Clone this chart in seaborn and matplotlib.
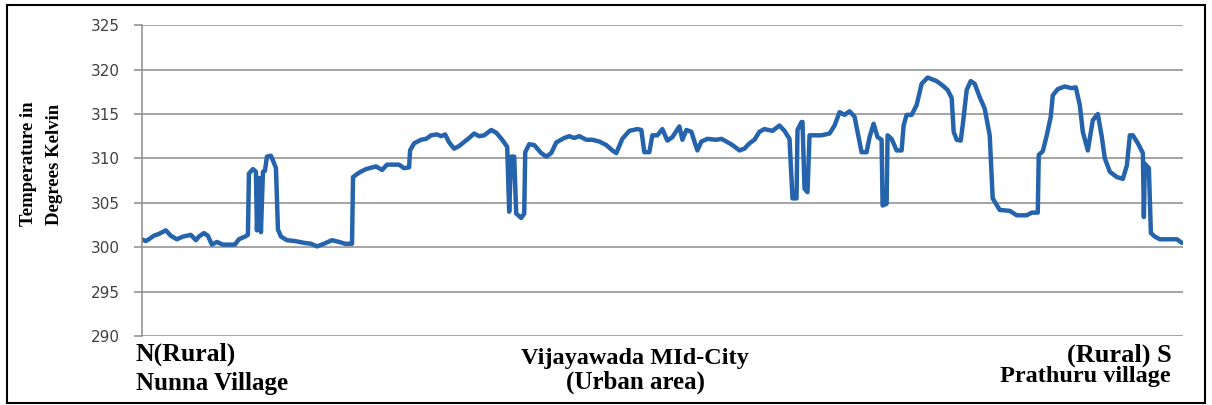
import matplotlib
matplotlib.use("Agg")
import matplotlib.pyplot as plt
import seaborn as sns
import pandas as pd
from matplotlib.patches import Rectangle

# position along the N-S transect (sample number) and surface temperature (K)
position = [0, 4, 7, 12, 17, 24, 29, 35, 41, 49, 54, 57, 62, 66, 70, 75, 81, 93,
            97, 103, 106, 107, 111, 114, 115, 117, 119, 121, 123, 125, 129, 132,
            134, 136, 139, 145, 153, 162, 169, 175, 182, 190, 197, 203, 210, 211,
            217, 224, 234, 240, 245, 257, 262, 267, 268, 272, 279, 284, 289, 295,
            299, 303, 307, 312, 317, 327, 332, 337, 342, 349, 354, 360, 365, 367,
            369, 372, 374, 379, 382, 383, 387, 392, 399, 404, 409, 414, 422, 427,
            432, 437, 444, 450, 457, 464, 470, 474, 480, 487, 495, 499, 502, 507,
            510, 515, 520, 525, 530, 537, 540, 544, 549, 552, 555, 559, 565, 574,
            579, 584, 590, 597, 602, 607, 612, 617, 622, 630, 637, 642, 647, 650,
            654, 655, 659, 660, 662, 665, 667, 674, 679, 687, 692, 697, 702, 707,
            712, 715, 719, 724, 727, 731, 735, 739, 740, 744, 745, 749, 754, 759,
            761, 764, 769, 774, 779, 785, 794, 800, 805, 809, 811, 814, 818, 820,
            824, 828, 832, 837, 842, 847, 850, 857, 867, 874, 884, 889, 895, 896,
            900, 904, 908, 910, 915, 922, 929, 933, 937, 940, 945, 950, 955, 959,
            962, 967, 974, 980, 984, 987, 990, 995, 1000, 1001, 1002, 1006, 1008,
            1012, 1017, 1034, 1039]
temperature = [300.9, 300.7, 300.9, 301.3, 301.5, 301.9, 301.3, 300.9, 301.2, 301.4,
               300.8, 301.2, 301.6, 301.3, 300.3, 300.6, 300.3, 300.3, 300.9, 301.2,
               301.4, 308.3, 308.8, 308.5, 301.9, 307.8, 301.7, 308.5, 308.6, 310.2,
               310.3, 309.5, 308.9, 302.0, 301.2, 300.8, 300.7, 300.5, 300.4, 300.1,
               300.4, 300.8, 300.6, 300.4, 300.4, 307.9, 308.4, 308.8, 309.1, 308.7,
               309.3, 309.3, 308.9, 309.0, 310.9, 311.7, 312.1, 312.2, 312.6, 312.7,
               312.5, 312.7, 311.8, 311.1, 311.4, 312.3, 312.8, 312.5, 312.6, 313.2,
               312.9, 312.1, 311.3, 304.0, 310.2, 310.2, 303.8, 303.3, 303.8, 310.7,
               311.6, 311.5, 310.6, 310.2, 310.6, 311.8, 312.3, 312.5, 312.3, 312.5,
               312.1, 312.1, 311.9, 311.5, 310.9, 310.6, 312.2, 313.1, 313.3, 313.2,
               310.7, 310.7, 312.6, 312.6, 313.3, 312.0, 312.4, 313.6, 312.1, 313.2,
               313.0, 311.9, 310.9, 311.9, 312.2, 312.1, 312.2, 311.9, 311.5, 310.9,
               311.1, 311.7, 312.1, 313.0, 313.3, 313.1, 313.7, 313.1, 312.2, 305.5,
               305.5, 313.2, 314.1, 314.1, 306.6, 306.2, 312.6, 312.6, 312.6, 312.8,
               313.7, 315.2, 314.9, 315.3, 314.7, 313.0, 310.7, 310.7, 312.4, 313.9,
               312.4, 312.1, 304.7, 304.9, 312.6, 312.2, 310.9, 310.9, 313.7, 314.9,
               314.9, 316.0, 318.4, 319.1, 318.7, 318.2, 317.7, 316.8, 313.0, 312.1,
               312.0, 313.7, 317.7, 318.7, 318.4, 316.9, 315.6, 312.6, 305.5, 304.2,
               304.1, 303.6, 303.6, 303.9, 303.9, 310.4, 310.8, 312.6, 314.7, 317.1,
               317.8, 318.1, 317.9, 318.0, 316.0, 313.0, 310.9, 314.3, 315.0, 312.4,
               310.0, 308.5, 307.9, 307.7, 309.2, 312.6, 312.6, 311.7, 310.6, 303.4,
               309.4, 308.9, 301.6, 301.2, 300.9, 300.9, 300.5]
yticks = [290, 295, 300, 305, 310, 315, 320, 325]

df = pd.DataFrame({"position": position, "temperature": temperature})

sns.set_style("white")
fig = plt.figure(figsize=(12.12, 4.05), dpi=100)
ax = fig.add_axes([0.117, 0.170, 0.859, 0.768])

sns.lineplot(data=df, x="position", y="temperature", ax=ax, sort=False,
             estimator=None, color="#2563ad", linewidth=3.2)

ax.set_xlim(0, 1040)
ax.set_ylim(290, 325)
ax.set_yticks(yticks)
ax.set_xticks([])
ax.yaxis.grid(True, color="#8c8c8c", linewidth=1.1)
ax.set_axisbelow(True)
for side in ["top", "right", "bottom"]:
    ax.spines[side].set_visible(False)
ax.spines["left"].set_color("#8c8c8c")
ax.spines["left"].set_linewidth(1.1)
ax.tick_params(axis="y", direction="out", length=6, width=1.1, color="#8c8c8c",
               labelsize=11, labelcolor="#404040", pad=10, left=True)
ax.set_xlabel("")
ax.set_ylabel("")

serif = dict(family="Liberation Serif", fontweight="bold", color="black")
fig.text(0.034, 0.595, "Temperature in\nDegrees Kelvin", rotation=90, ha="center",
         va="center", fontsize=13.5, linespacing=1.7, **serif)
fig.text(0.112, 0.126, "N(Rural)", ha="left", va="center", fontsize=18.5, **serif)
fig.text(0.112, 0.054, "Nunna Village", ha="left", va="center", fontsize=18, **serif)
fig.text(0.524, 0.116, "Vijayawada MId-City", ha="center", va="center", fontsize=17.5, **serif)
fig.text(0.524, 0.057, "(Urban area)", ha="center", va="center", fontsize=18, **serif)
fig.text(0.967, 0.123, "(Rural) S", ha="right", va="center", fontsize=19, **serif)
fig.text(0.966, 0.070, "Prathuru village", ha="right", va="center", fontsize=17.5, **serif)

fig.patches.append(Rectangle((0.006, 0.006), 0.988, 0.981, transform=fig.transFigure,
                             fill=False, edgecolor="black", linewidth=1.5))

fig.savefig("out.png", dpi=100)
